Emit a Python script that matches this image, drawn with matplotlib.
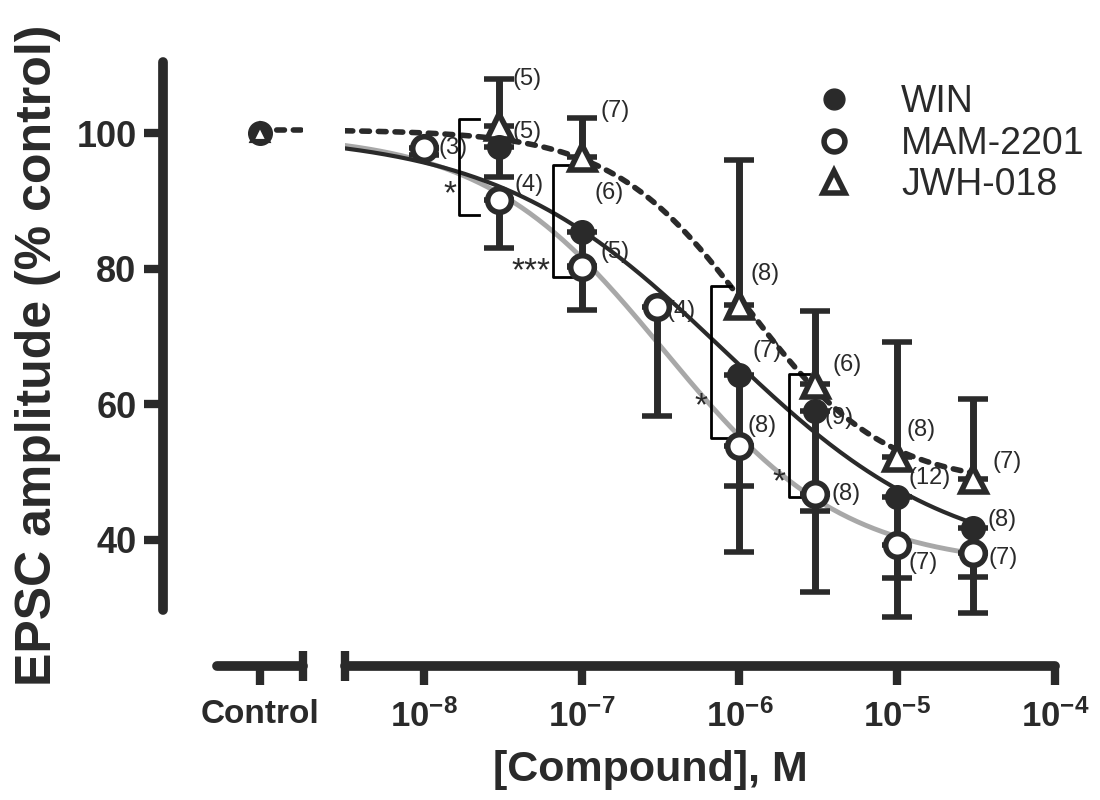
import numpy as np
import matplotlib.pyplot as plt
from matplotlib.lines import Line2D
from matplotlib.ticker import NullLocator

plt.rcParams['font.family'] = ['Liberation Sans', 'DejaVu Sans']
plt.rcParams['mathtext.fontset'] = 'custom'
plt.rcParams['mathtext.rm'] = 'Liberation Sans'
plt.rcParams['mathtext.bf'] = 'Liberation Sans:bold'
plt.rcParams['mathtext.it'] = 'Liberation Sans:italic'

# ---- data ----
control_value = 100

win_conc = np.array([3e-8, 1e-7, 1e-6, 3e-6, 1e-5, 3e-5])
win_mean = np.array([98.0, 85.4, 64.4, 59.0, 46.4, 41.8])
win_err = np.array([4.5, 5.0, 26.2, 26.7, 17.8, 12.6])
win_n = [5, 6, 7, 9, 12, 8]

mam_conc = np.array([1e-8, 3e-8, 1e-7, 3e-7, 1e-6, 3e-6, 1e-5, 3e-5])
mam_mean = np.array([97.8, 90.1, 80.2, 74.3, 53.9, 46.8, 39.2, 38.1])
mam_err = np.array([1.0, 7.0, 6.3, 16.0, 6.0, 2.5, 4.8, 3.6])
mam_n = [3, 4, 5, 4, 8, 8, 7, 7]

jwh_conc = np.array([3e-8, 1e-7, 1e-6, 3e-6, 1e-5, 3e-5])
jwh_mean = np.array([101.0, 96.5, 74.6, 63.0, 52.3, 49.0])
jwh_err = np.array([7.0, 5.7, 21.5, 10.7, 16.9, 11.8])
jwh_n = [5, 7, 8, 6, 8, 7]

# sigmoid fits: top, bottom, logEC50, hill slope
win_fit = [100.0, 36.0, -6.1, 0.6]
mam_fit = [100.0, 36.0, -6.48, 0.76]
jwh_fit = [100.5, 48.0, -5.95, 1.0]

# significance brackets
sig_x = [10**-7.775, 10**-7.18, 10**-6.18, 10**-5.686]
sig_top = [102.1, 95.3, 77.4, 64.5]
sig_bottom = [88.0, 78.8, 55.0, 46.3]
sig_star_y = [90.9, 79.5, 59.7, 48.4]
sig_text = ['*', '***', '*', '*']

xticks = [1e-8, 1e-7, 1e-6, 1e-5, 1e-4]
xticklabels = [r'$\mathbf{10^{-8}}$', r'$\mathbf{10^{-7}}$', r'$\mathbf{10^{-6}}$',
               r'$\mathbf{10^{-5}}$', r'$\mathbf{10^{-4}}$']

# label offsets (pixels) for the n numbers
win_off = [(28, 15), (27, 39), (28, 24), (24, -7), (32, 19), (30, 8)]
mam_off = [(29, 0), (30, 15), (33, 15), (24, -4), (23, 20), (31, 0), (26, -18), (31, -5)]
jwh_off = [(28, 47), (33, 46), (26, 31), (32, 19), (24, 27), (35, 17)]

dark = '#2a2a2a'
grey = '#a8a8a8'


def sigmoid(x, p):
    top, bottom, logec, hill = p
    return bottom + (top - bottom) / (1 + 10 ** (hill * (np.log10(x) - logec)))


fig = plt.figure(figsize=(11, 8), dpi=100)
W, H = 1100, 800
ax_c = fig.add_axes([163 / W, 134 / H, 140 / W, 604 / H])
ax = fig.add_axes([345 / W, 134 / H, 710 / W, 604 / H], sharey=ax_c)

ylo, yhi = 21.4, 110.5
ax_c.set_ylim(ylo, yhi)

# spines / ticks
for a in (ax_c, ax):
    a.spines['top'].set_visible(False)
    a.spines['right'].set_visible(False)
    for s in a.spines.values():
        s.set_linewidth(7)
        s.set_color(dark)
        s.set_capstyle('round')
    a.tick_params(axis='both', direction='out', length=14, width=6, color=dark,
                  labelsize=26, pad=5)
    a.patch.set_visible(False)

ax_c.spines['left'].set_bounds(29.7, yhi)
ax_c.set_yticks([40, 60, 80, 100])
for t in ax_c.get_yticklabels():
    t.set_fontweight('bold')
    t.set_color(dark)

ax_c.set_xlim(-2.25, 1)
ax_c.spines['bottom'].set_bounds(-1, 1)
ax_c.set_xticks([0])
ax_c.set_xticklabels(['Control'], fontsize=24, fontweight='bold', color=dark)
ax_c.tick_params(axis='x', pad=10)

ax.spines['left'].set_visible(False)
ax.tick_params(axis='y', left=False, labelleft=False)
ax.set_xscale('log')
ax.set_xlim(10**-8.5, 1e-4)
ax.set_xticks(xticks)
ax.set_xticklabels(xticklabels, fontsize=25, color=dark)
ax.xaxis.set_minor_locator(NullLocator())
ax.tick_params(axis='x', pad=10)

# break caps on the x axis
ax_c.plot([1], [0], marker='|', ms=22, mew=6, color=dark,
          transform=ax_c.transAxes, clip_on=False)
ax.plot([0], [0], marker='|', ms=22, mew=6, color=dark,
        transform=ax.transAxes, clip_on=False)

# fitted curves
xfit = np.logspace(-8.5, np.log10(3e-5), 300)
ax.plot(xfit, sigmoid(xfit, mam_fit), color=grey, lw=3.5, zorder=2)
ax.plot(xfit, sigmoid(xfit, win_fit), color=dark, lw=3, zorder=2)
ax.plot(xfit, sigmoid(xfit, jwh_fit), color=dark, lw=4,
        linestyle=(0, (1.4, 1.6)), dash_capstyle='round', zorder=2)

# control: all three at 100 %
ax_c.plot([0, 1], [jwh_fit[0], jwh_fit[0]], color=dark, lw=4,
          linestyle=(0, (1.4, 1.6)), dash_capstyle='round', zorder=2)
ax_c.plot([0], [control_value], marker='o', ms=17, color=dark, zorder=5)
ax_c.plot([0], [control_value], marker='^', ms=12, mfc='white', mec=dark, mew=3, zorder=6)

# data points with one-sided error bars
eb = dict(ecolor=dark, elinewidth=5, capsize=11, capthick=4, ls='none', zorder=4)
ax.errorbar(jwh_conc, jwh_mean, yerr=[np.zeros_like(jwh_err), jwh_err],
            fmt='^', ms=18, mfc='white', mec=dark, mew=4, **eb)
ax.errorbar(win_conc, win_mean, yerr=[win_err, np.zeros_like(win_err)],
            fmt='o', ms=17, mfc=dark, mec=dark, **eb)
ax.errorbar(mam_conc, mam_mean, yerr=[mam_err, np.zeros_like(mam_err)],
            fmt='o', ms=17, mfc='white', mec=dark, mew=4, **eb)

# n labels
for conc, mean, ns, offs in ((win_conc, win_mean, win_n, win_off),
                             (mam_conc, mam_mean, mam_n, mam_off),
                             (jwh_conc, jwh_mean, jwh_n, jwh_off)):
    for c, m, n, o in zip(conc, mean, ns, offs):
        ax.annotate(f'({n})', (c, m), xytext=o, textcoords='offset pixels',
                    ha='center', va='center', fontsize=17, color=dark, zorder=3)

# significance brackets
arm = 10 ** 0.125
for x, top, bot, sy, s in zip(sig_x, sig_top, sig_bottom, sig_star_y, sig_text):
    ax.plot([x * arm, x, x, x * arm], [top, top, bot, bot], color='black', lw=2, zorder=3)
    ax.text(x / 10 ** 0.02, sy, s, ha='right', va='center', fontsize=24, color=dark)

# legend
handles = [
    Line2D([], [], ls='none', marker='o', ms=15, mfc=dark, mec=dark),
    Line2D([], [], ls='none', marker='o', ms=15, mfc='white', mec=dark, mew=4),
    Line2D([], [], ls='none', marker='^', ms=16, mfc='white', mec=dark, mew=4),
]
fig.legend(handles, ['WIN', 'MAM-2201', 'JWH-018'], loc='upper left',
           bbox_to_anchor=(815 / W, 1 - 84 / H), frameon=False, fontsize=27,
           handlelength=1.0, handletextpad=1.3, labelspacing=0.15,
           borderpad=0, borderaxespad=0, labelcolor=dark)

# axis labels
fig.text(38 / W, 1 - 355 / H, 'EPSC amplitude (% control)', rotation=90,
         ha='center', va='center', fontsize=36, fontweight='bold', color=dark)
fig.text(650 / W, 1 - 770 / H, '[Compound], M', ha='center', va='center',
         fontsize=31, fontweight='bold', color=dark)

fig.savefig('out.png', dpi=100)
